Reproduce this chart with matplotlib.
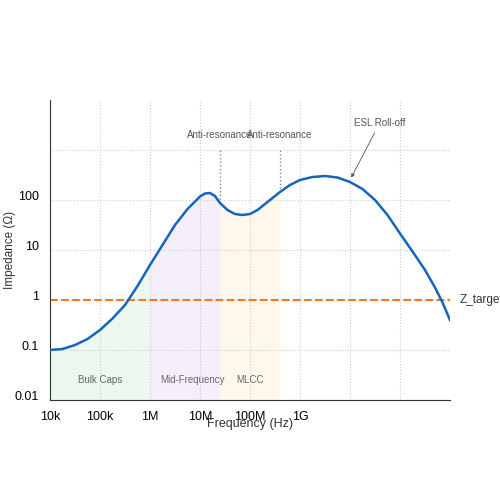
import matplotlib
matplotlib.use("Agg")
import matplotlib.pyplot as plt
import matplotlib.transforms as mtrans
import numpy as np

plt.rcParams["font.family"] = ["Liberation Sans", "DejaVu Sans"]

# impedance curve (log10 Hz, log10 ohm)
log_freq = [4, 4.25, 4.5, 4.75, 5, 5.25, 5.5, 5.75, 6, 6.25, 6.5, 6.75, 7, 7.1, 7.2, 7.3, 7.4,
            7.55, 7.7, 7.85, 8, 8.15, 8.3, 8.45, 8.6, 8.8, 9, 9.25, 9.5, 9.75, 10, 10.25,
            10.5, 10.75, 11, 11.25, 11.5, 11.7, 11.85, 12]
log_imp = [-1, -0.98, -0.9, -0.78, -0.6, -0.37, -0.1, 0.28, 0.7, 1.1, 1.5, 1.82, 2.07, 2.13, 2.14,
           2.08, 1.94, 1.8, 1.72, 1.7, 1.72, 1.8, 1.92, 2.04, 2.16, 2.3, 2.4, 2.46, 2.48, 2.45,
           2.36, 2.22, 2.0, 1.7, 1.33, 0.97, 0.6, 0.25, -0.05, -0.4]
freq = 10 ** np.array(log_freq)
imp = 10 ** np.array(log_imp)

z_target = 1.0
regions = [("Bulk Caps", 1e4, 1e6, "#e8f5ec"),
           ("Mid-Frequency", 1e6, 10 ** 7.4, "#f3ebfb"),
           ("MLCC", 10 ** 7.4, 10 ** 8.6, "#fdf7e6")]
region_label_x = [1e5, 7e6, 1e8]
anti_res = [10 ** 7.4, 10 ** 8.6]

fig = plt.figure(figsize=(5, 5), dpi=100)
ax = fig.add_axes([0.1, 0.2, 0.8, 0.6])
ax.set_xscale("log")
ax.set_yscale("log")
ax.set_xlim(1e4, 1e12)
ax.set_ylim(1e-2, 1e4)

for (name, lo, hi, color), lx in zip(regions, region_label_x):
    mask = (freq >= lo) & (freq <= hi)
    ax.fill_between(freq[mask], 1e-2, imp[mask], color=color, alpha=0.8, lw=0)
    ax.text(lx, 0.025, name, ha="center", va="center", fontsize=7, color="#666666")

ax.plot(freq, imp, color="#1565c0", lw=1.8, zorder=3)
ax.axhline(z_target, color="#f07820", ls="--", lw=1.5, zorder=2)
ax.text(1e12 * 10 ** 0.2, z_target, "Z_target", va="center", fontsize=8.5, color="#333333", clip_on=False)

for f in anti_res:
    zi = np.interp(np.log10(f), log_freq, log_imp)
    ax.plot([f, f], [10 ** zi, 1e3], color="#888888", ls=":", lw=1)
    ax.text(f, 10 ** 3.2, "Anti-resonance", ha="center", va="bottom", fontsize=7, color="#555555")

ax.annotate("ESL Roll-off", xy=(1e10, 10 ** 2.4), xytext=(10 ** 10.6, 10 ** 3.45),
            fontsize=7, color="#555555", ha="center", va="bottom",
            arrowprops=dict(arrowstyle="-|>", color="#555555", lw=0.6, mutation_scale=5))

ax.grid(True, which="major", ls=":", color="#cccccc", lw=0.8)
ax.set_xticks([1e4, 1e5, 1e6, 1e7, 1e8, 1e9, 1e10, 1e11])
ax.set_xticklabels(["10k", "100k", "1M", "10M", "100M", "1G", "", ""], fontsize=9)
ax.set_yticks([1e-2, 1e-1, 1, 10, 100, 1000])
ax.set_yticklabels(["0.01", "0.1", "1", "10", "100", ""], fontsize=9)
ax.minorticks_off()
ax.tick_params(length=0, pad=8)
shift = mtrans.ScaledTranslation(0, 3.6 / 72, fig.dpi_scale_trans)
for lbl in ax.get_yticklabels():
    lbl.set_transform(lbl.get_transform() + shift)
ax.set_xlabel("Frequency (Hz)", fontsize=9, color="#333333", labelpad=-4)
ax.set_ylabel("Impedance (Ω)", fontsize=8.5, color="#333333", labelpad=4)
ax.yaxis.set_label_coords(-0.085, 0.5)
ax.spines["top"].set_visible(False)
ax.spines["right"].set_visible(False)
ax.spines["left"].set_color("#333333")
ax.spines["bottom"].set_color("#333333")

fig.savefig("out.png", dpi=100)
